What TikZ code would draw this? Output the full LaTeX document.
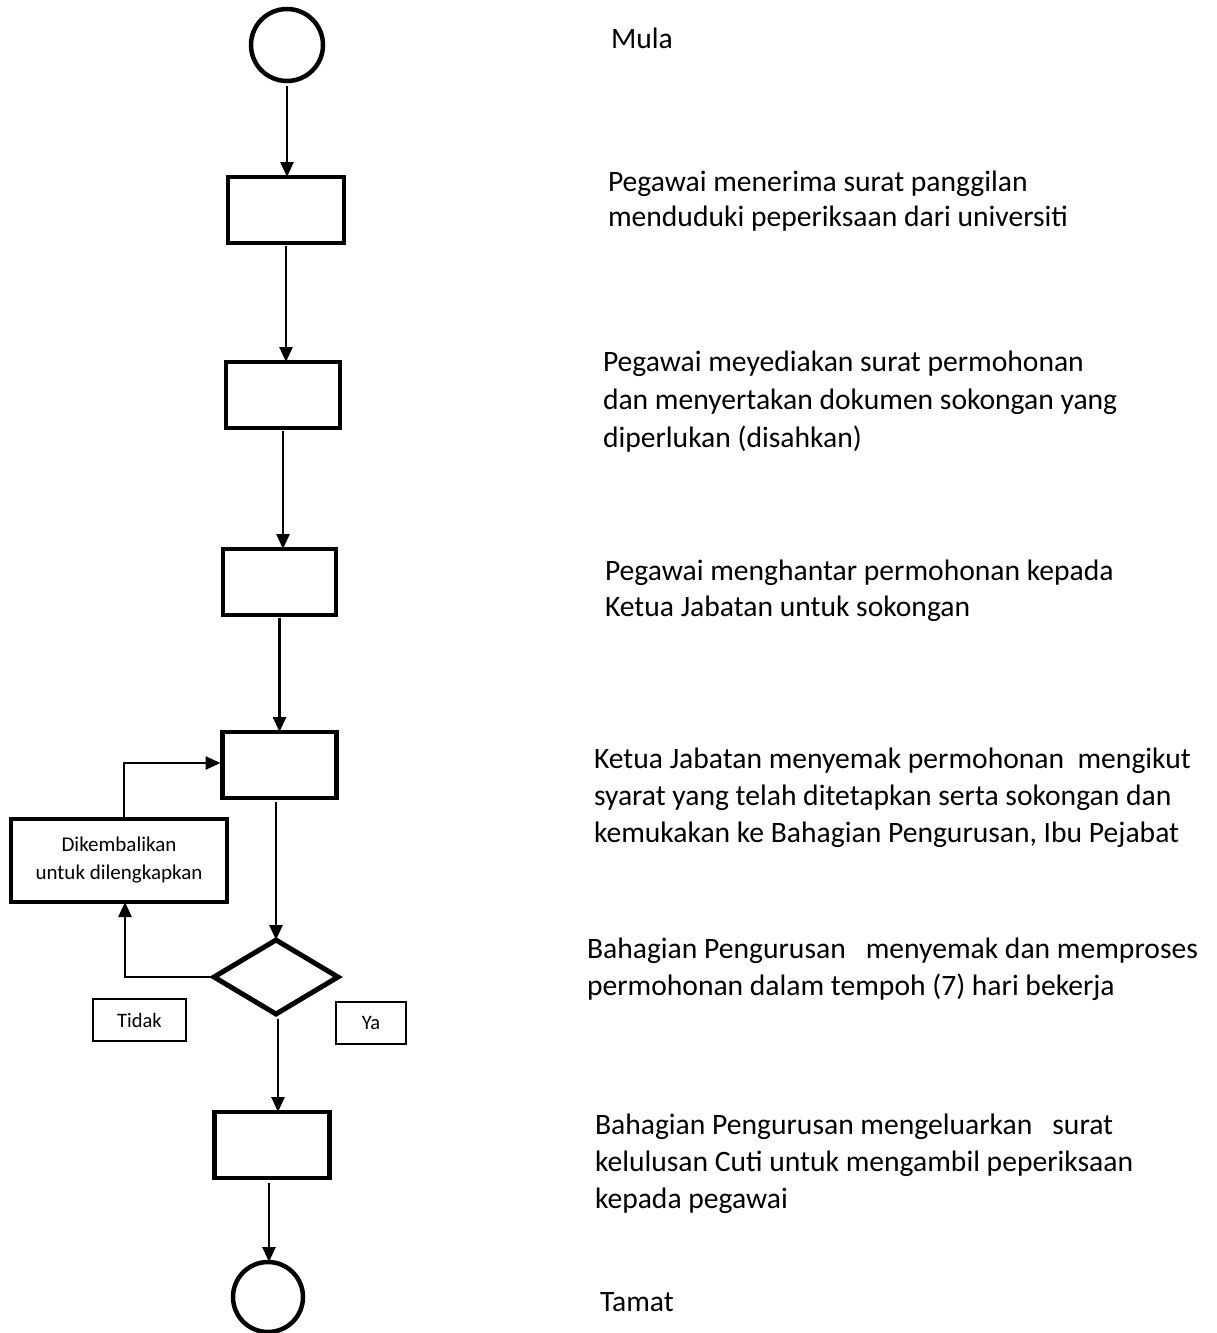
\documentclass[tikz,border=0pt]{standalone}
\usepackage{fontspec}
\setmainfont{Carlito}
\usetikzlibrary{arrows.meta,shapes.geometric}

\begin{document}
\begin{tikzpicture}[x=1pt,y=-1pt,
  every node/.style={inner sep=0pt, outer sep=0pt},
  stepbox/.style={draw, line width=4.5pt, rectangle, minimum width=#1, minimum height=66pt},
  terminal/.style={draw, line width=4.5pt, circle, minimum size=#1},
  decision/.style={draw, line width=5pt, diamond, minimum width=124pt, minimum height=74pt},
  notebox/.style={draw, line width=3.5pt, rectangle, align=center,
    font=\fontsize{21}{28}\selectfont, minimum width=216pt, minimum height=83pt},
  labelbox/.style={draw, line width=2pt, rectangle, font=\fontsize{20.5}{24}\selectfont,
    minimum height=42pt},
  % multi-line descriptions are anchored at the baseline of their last line
  desc/.style={anchor=base west, align=left, font=\fontsize{29.6}{#1}\selectfont},
  desc/.default=37pt,
  arr/.style={-{Triangle[length=15pt,width=13pt]}, line width=2.5pt}
]
\useasboundingbox (0,0) rectangle (1217,1333);

% flow symbols
\node[terminal=72pt] (start) at (287,45) {};
\node[stepbox=116pt] (b1) at (286,210) {};
\node[stepbox=114pt] (b2) at (283,395) {};
\node[stepbox=113pt] (b3) at (279.5,582) {};
\node[stepbox=114pt] (b4) at (279.5,765) {};
\node[decision] (dec) at (276,977) {};
\node[stepbox=115pt] (b5) at (272,1145) {};
\node[terminal=70pt] (end) at (268,1297) {};

% return branch
\node[notebox] (ret) at (119,860.5) {Dikembalikan\\untuk dilengkapkan};
\node[labelbox, minimum width=93pt] (no) at (139.5,1020) {Tidak};
\node[labelbox, minimum width=70pt] (yes) at (371,1022.5) {Ya};

% connectors
\draw[arr, shorten <=5pt] (start.south) -- (start.south |- b1.north);
\draw[arr, shorten <=3pt] (b1.south) -- (b1.south |- b2.north);
\draw[arr, shorten <=3pt] (b2.south) -- (b2.south |- b3.north);
\draw[arr, shorten <=3pt] (b3.south) -- (b3.south |- b4.north);
\draw[arr, shorten <=4pt] ([xshift=-3.5pt]b4.south) -- ([xshift=-3.5pt]b4.south |- dec.north);
\draw[arr, shorten <=5pt] ([xshift=2pt]dec.south) -- ([xshift=2pt]dec.south |- b5.north);
\draw[arr, shorten <=5pt] ([xshift=-3pt]b5.south) -- ([xshift=-3pt]b5.south |- end.north);
\draw[arr] (dec.west) -| ([xshift=6pt]ret.south);
\draw[arr] ([xshift=5pt]ret.north) |- ([xshift=-2pt,yshift=2pt]b4.west);

% step descriptions
\node[desc] (t0) at (611,48) {Mula};
\node[desc=35pt] (t1) at (608,226) {Pegawai menerima surat panggilan\\menduduki peperiksaan dari universiti};
\node[desc=38pt] (t2) at (603,447) {Pegawai meyediakan surat permohonan\\dan menyertakan dokumen sokongan yang\\diperlukan (disahkan)};
\node[desc=36pt] (t3) at (605,616) {Pegawai menghantar permohonan kepada\\Ketua Jabatan untuk sokongan};
\node[desc] (t4) at (594,842) {Ketua Jabatan menyemak permohonan\ \ mengikut\\syarat yang telah ditetapkan serta sokongan dan\\kemukakan ke Bahagian Pengurusan, Ibu Pejabat};
\node[desc] (t5) at (587,995) {Bahagian Pengurusan\ \ \ menyemak dan memproses\\permohonan dalam tempoh (7) hari bekerja};
\node[desc] (t6) at (595,1208) {Bahagian Pengurusan mengeluarkan\ \ \ surat\\kelulusan Cuti untuk mengambil peperiksaan\\kepada pegawai};
\node[desc] (t7) at (600,1311) {Tamat};
\end{tikzpicture}
\end{document}
